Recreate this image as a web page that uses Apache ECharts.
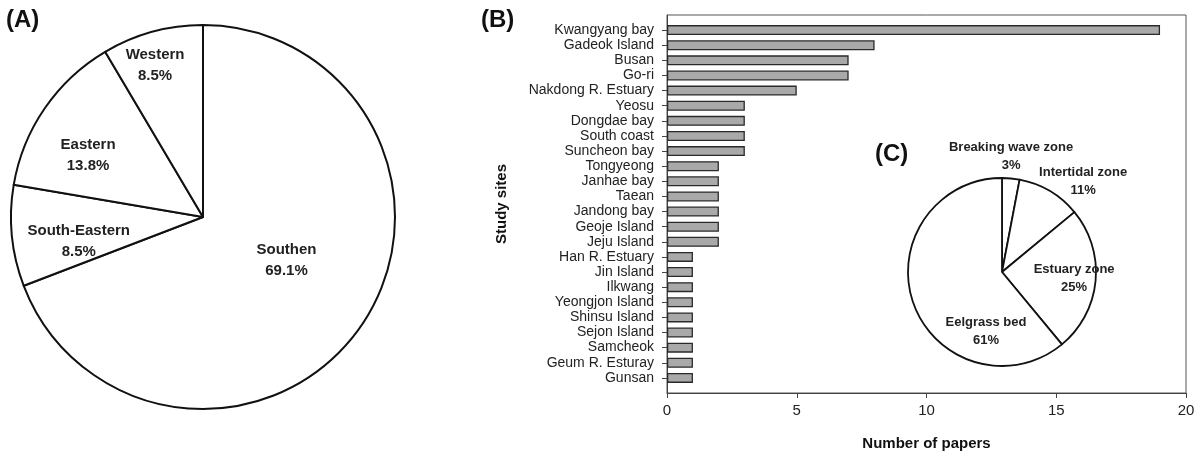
<!DOCTYPE html>
<html>
<head>
<meta charset="utf-8">
<script src="https://cdn.jsdelivr.net/npm/echarts@6/dist/echarts.min.js"></script>
<style>html,body{margin:0;padding:0;background:#fff}#c{width:1200px;height:458px}</style>
</head>
<body>
<div id="c"></div>
<script>
// ---- Data ----
const regionNames = ['Southen', 'South-Eastern', 'Eastern', 'Western'];
const regionPct = [69.1, 8.5, 13.8, 8.5];

const siteNames = ['Kwangyang bay','Gadeok Island','Busan','Go-ri','Nakdong R. Estuary','Yeosu','Dongdae bay','South coast','Suncheon bay','Tongyeong','Janhae bay','Taean','Jandong bay','Geoje Island','Jeju Island','Han R. Estuary','Jin Island','Ilkwang','Yeongjon Island','Shinsu Island','Sejon Island','Samcheok','Geum R. Esturay','Gunsan'];
const sitePapers = [19,8,7,7,5,3,3,3,3,2,2,2,2,2,2,1,1,1,1,1,1,1,1,1];
const xTicks = [0, 5, 10, 15, 20];

const habitatNames = ['Breaking wave zone', 'Intertidal zone', 'Estuary zone', 'Eelgrass bed'];
const habitatPct = [3, 11, 25, 61];

// ---- Layout / style config ----
const pieA = { cx: 203, cy: 217, r: 192 };
const pieC = { cx: 1002, cy: 272, r: 94 };
// label placement: angle (deg, clockwise from top), distance as fraction of radius
const labelPosA = [{a:117.4,d:0.49},{a:258.7,d:0.66},{a:298.3,d:0.68},{a:342.5,d:0.83}];
const labelPosC = [{a:4.5,d:1.23},{a:42,d:1.29},{a:94.8,d:0.77},{a:195.2,d:0.65}];

function layoutFor(p, pos) {
  return function (params) {
    const q = pos[params.dataIndex];
    const a = q.a * Math.PI / 180;
    return { x: p.cx + p.r * q.d * Math.sin(a), y: p.cy - p.r * q.d * Math.cos(a), align: 'center', verticalAlign: 'middle' };
  };
}

const FONT = '"Liberation Sans", Arial, sans-serif';
const chart = echarts.init(document.getElementById('c'), null, { renderer: 'canvas' });

// padded category list: one empty slot above and below the sites, as in the original frame
const yCats = [''].concat(siteNames, ['']);
const barData = [null].concat(sitePapers, [null]);

chart.setOption({
  animation: false,
  textStyle: { fontFamily: FONT },
  graphic: [
    { type: 'text', left: 6, top: 8, style: { text: '(A)', font: 'bold 24px ' + FONT, fill: '#111' } },
    { type: 'text', left: 481, top: 8, style: { text: '(B)', font: 'bold 24px ' + FONT, fill: '#111' } },
    { type: 'text', left: 875, top: 142, style: { text: '(C)', font: 'bold 24px ' + FONT, fill: '#111' } }
  ],
  grid: { left: 667, top: 15, right: 14, bottom: 65, show: true, borderColor: '#555', borderWidth: 1, backgroundColor: 'transparent' },
  xAxis: {
    type: 'value', min: 0, max: 20, interval: 5,
    axisLine: { show: true, lineStyle: { color: '#444', width: 1 } },
    axisTick: { show: true, length: 5, lineStyle: { color: '#444' } },
    axisLabel: { fontSize: 15, color: '#222', margin: 10, formatter: v => xTicks.includes(v) ? String(v) : '' },
    splitLine: { show: false },
    name: 'Number of papers', nameLocation: 'middle', nameGap: 43,
    nameTextStyle: { fontSize: 15, fontWeight: 'bold', color: '#111' }
  },
  yAxis: {
    type: 'category', inverse: true, boundaryGap: false,
    data: yCats,
    axisLine: { show: true, lineStyle: { color: '#444', width: 1 } },
    axisTick: { show: true, length: 5, lineStyle: { color: '#444' }, interval: (i, v) => v !== '' },
    axisLabel: { fontSize: 14, color: '#222', margin: 13, interval: 0 },
    splitLine: { show: false },
    name: 'Study sites', nameLocation: 'middle', nameGap: 158, nameRotate: 90,
    nameTextStyle: { fontSize: 15, fontWeight: 'bold', color: '#111' }
  },
  series: [
    {
      type: 'bar',
      data: barData,
      barWidth: 10,
      itemStyle: { color: '#a9a9a9', borderColor: '#2a2a2a', borderWidth: 1.3 },
      emphasis: { disabled: true }
    },
    {
      type: 'pie',
      center: [pieA.cx, pieA.cy], radius: [0, pieA.r],
      startAngle: 90, clockwise: true,
      data: regionNames.map((n, i) => ({ name: n, value: regionPct[i] })),
      itemStyle: { color: '#fff', borderColor: '#111', borderWidth: 2 },
      label: { show: true, position: 'inside', formatter: p => p.name + '\n' + p.value.toFixed(1) + '%',
        fontSize: 15, fontWeight: 'bold', color: '#222', lineHeight: 21, align: 'center' },
      labelLine: { show: false },
      labelLayout: layoutFor(pieA, labelPosA),
      emphasis: { disabled: true },
      silent: true
    },
    {
      type: 'pie',
      center: [pieC.cx, pieC.cy], radius: [0, pieC.r],
      startAngle: 90, clockwise: true,
      data: habitatNames.map((n, i) => ({ name: n, value: habitatPct[i] })),
      itemStyle: { color: '#fff', borderColor: '#111', borderWidth: 1.8 },
      label: { show: true, position: 'inside', formatter: p => p.name + '\n' + p.value + '%',
        fontSize: 13, fontWeight: 'bold', color: '#222', lineHeight: 18, align: 'center' },
      labelLine: { show: false },
      labelLayout: layoutFor(pieC, labelPosC),
      emphasis: { disabled: true },
      silent: true
    }
  ]
});
</script>
</body>
</html>
